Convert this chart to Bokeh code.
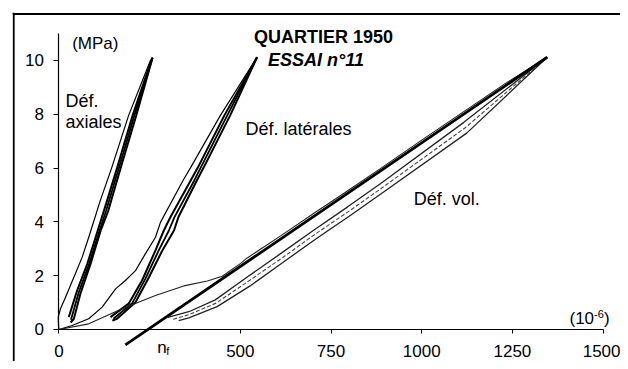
from bokeh.plotting import figure
from bokeh.models import Range1d, FixedTicker, Label, Span
from bokeh.embed import file_html
from bokeh.resources import INLINE

# ---- data (strain in 1e-6, stress in MPa) ----
axial_first_x = [0, -1, -2, 4, 18, 41, 64, 82, 114, 145, 192, 252, 258]
axial_first_y = [0, 0.09, 0.46, 0.77, 1.20, 1.94, 2.69, 3.43, 4.80, 6.0, 7.96, 10.0, 10.1]
axial_reload_x = [27, 50, 78, 101, 124, 160, 203, 257]
axial_reload_y = [0.46, 1.45, 2.44, 3.43, 4.42, 6.0, 7.96, 10.1]
axial_mid_x = [33, 55, 83, 106, 130, 165, 208, 258]
axial_mid_y = [0.36, 1.40, 2.44, 3.43, 4.42, 6.0, 7.96, 10.1]
axial_unload_x = [258, 213, 170, 136, 115, 87, 59, 41, 32]
axial_unload_y = [10.1, 7.96, 6.0, 4.42, 3.68, 2.44, 1.33, 0.40, 0.26]

lat_first_x = [0, 36, 82, 119, 156, 183, 211, 238, 266, 280, 342, 362, 445, 546]
lat_first_y = [0, 0.15, 0.40, 0.83, 1.51, 1.82, 2.19, 2.81, 3.43, 3.99, 5.54, 6.0, 7.96, 10.12]
lat_reload_x = [142, 192, 229, 266, 289, 307, 363, 382, 456, 546]
lat_reload_y = [0.46, 0.96, 1.82, 2.94, 3.68, 4.17, 5.54, 6.0, 7.96, 10.12]
lat_mid_x = [150, 202, 238, 275, 303, 318, 373, 390, 464, 546]
lat_mid_y = [0.40, 0.98, 1.88, 2.94, 3.68, 4.17, 5.54, 6.0, 7.96, 10.12]
lat_unload_x = [546, 472, 398, 380, 329, 317, 285, 248, 211, 160, 147]
lat_unload_y = [10.12, 7.96, 6.0, 5.54, 4.17, 3.68, 2.94, 1.94, 1.01, 0.40, 0.33]

vol_first_x = [0, 82, 174, 266, 344, 409, 450, 500, 519, 611, 703, 795, 886, 1000, 1116, 1230, 1346]
vol_first_y = [0, 0.21, 0.77, 1.26, 1.62, 1.80, 1.98, 2.45, 2.66, 3.48, 4.32, 5.15, 5.98, 7.04, 8.10, 9.14, 10.12]
vol_upper_x = [300, 358, 431, 519, 611, 703, 795, 886, 1116, 1346]
vol_upper_y = [0.45, 0.66, 1.10, 1.95, 2.82, 3.70, 4.55, 5.42, 7.70, 10.12]
vol_mid_x = [315, 358, 433, 523, 615, 707, 800, 890, 1120, 1346]
vol_mid_y = [0.38, 0.55, 0.98, 1.80, 2.66, 3.55, 4.40, 5.26, 7.50, 10.12]
vol_lower_x = [330, 358, 436, 527, 620, 712, 804, 894, 1124, 1346]
vol_lower_y = [0.33, 0.43, 0.85, 1.62, 2.52, 3.40, 4.25, 5.10, 7.30, 10.12]

nf_line_x = [183, 1346]
nf_line_y = [-0.57, 10.12]

x_ticks = [0, 500, 750, 1000, 1250, 1500]
y_ticks = [0, 2, 4, 6, 8, 10]

FONT = "Liberation Sans"
INK = "#000000"

p = figure(width=620, height=361, output_backend="svg", toolbar_location=None,
           x_range=Range1d(-128.2, 1548.1), y_range=Range1d(-1.19, 11.784),
           min_border_left=12, min_border_top=12, min_border_right=0, min_border_bottom=0,
           background_fill_color="white", border_fill_color="white")
p.outline_line_color = None
p.grid.visible = False

# axes
xa = p.xaxis[0]
xa.fixed_location = 0
xa.bounds = (0, 1500)
xa.ticker = FixedTicker(ticks=x_ticks)
xa.minor_tick_line_color = None
xa.major_tick_in = 0
xa.major_tick_out = 4
xa.major_label_standoff = 12
xa.major_label_text_font = FONT
xa.major_label_text_font_size = "17px"
xa.major_label_text_color = INK
xa.axis_line_color = INK
xa.major_tick_line_color = INK
xa.axis_line_width = 1.2

ya = p.yaxis[0]
ya.fixed_location = 0
ya.bounds = (0, 11.0)
ya.ticker = FixedTicker(ticks=y_ticks)
ya.minor_tick_line_color = None
ya.major_tick_in = 0
ya.major_tick_out = 5
ya.major_label_standoff = 10
ya.major_label_text_font = FONT
ya.major_label_text_font_size = "17px"
ya.major_label_text_color = INK
ya.axis_line_color = INK
ya.major_tick_line_color = INK
ya.axis_line_width = 1.2

# outer frame (top + left)
p.add_layout(Span(location=-125, dimension="height", line_color=INK, line_width=2))
p.add_layout(Span(location=11.73, dimension="width", line_color=INK, line_width=2))

# curves
p.line(axial_first_x, axial_first_y, line_color=INK, line_width=1.2)
p.line(axial_reload_x, axial_reload_y, line_color=INK, line_width=2.0)
p.line(axial_mid_x, axial_mid_y, line_color=INK, line_width=1.8)
p.line(axial_unload_x, axial_unload_y, line_color=INK, line_width=2.0)

p.line(lat_first_x, lat_first_y, line_color=INK, line_width=1.2)
p.line(lat_reload_x, lat_reload_y, line_color=INK, line_width=2.0)
p.line(lat_mid_x, lat_mid_y, line_color=INK, line_width=1.8)
p.line(lat_unload_x, lat_unload_y, line_color=INK, line_width=2.0)

p.line(vol_first_x, vol_first_y, line_color="#222222", line_width=1.1)
p.line(vol_upper_x, vol_upper_y, line_color="#222222", line_width=1.3)
p.line(vol_mid_x, vol_mid_y, line_color="#444444", line_width=1.1, line_dash="4 2")
p.line(vol_lower_x, vol_lower_y, line_color="#222222", line_width=1.3)

p.line(nf_line_x, nf_line_y, line_color=INK, line_width=2.8)

# labels
def lab(x, y, t, size="18px", style="normal", align="left", font=FONT):
    p.add_layout(Label(x=x, y=y, text=t, text_font=font, text_font_size=size,
                       text_font_style=style, text_align=align,
                       text_baseline="alphabetic", text_color=INK))

lab(729, 10.87, "QUARTIER 1950", style="bold", align="center")
lab(708.7, 10.03, "ESSAI n°11", style="bold italic", align="center")
lab(36.4, 10.63, "(MPa)", size="17px")
lab(18, 8.51, "Déf.")
lab(18, 7.71, "axiales")
lab(514, 7.47, "Déf. latérales")
lab(978, 4.86, "Déf. vol.")
lab(1407.5, 0.41, "(10", size="17px")
lab(1475.3, 0.59, "-6", size="11px")
lab(1502.3, 0.41, ")", size="17px")
lab(270.6, -0.658, "n", size="17px")
lab(295.4, -0.807, "f", size="11px")

open("out.html", "w").write(file_html(p, INLINE))
